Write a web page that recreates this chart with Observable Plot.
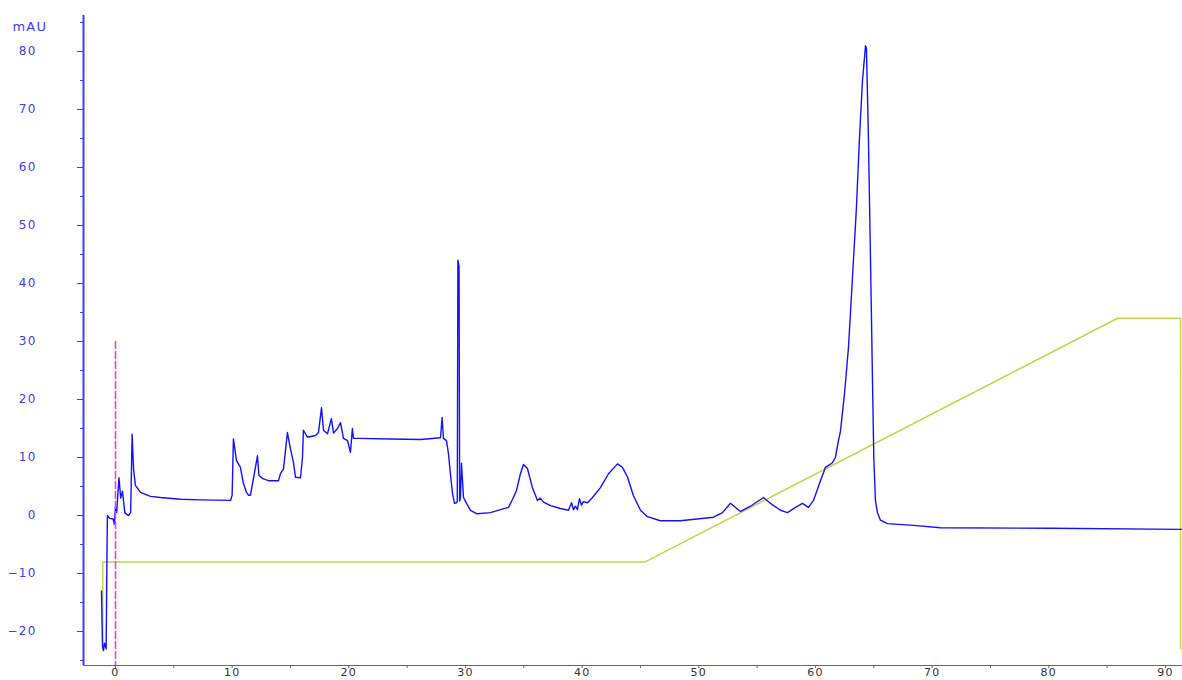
<!DOCTYPE html>
<html>
<head>
<meta charset="utf-8">
<script src="https://cdn.jsdelivr.net/npm/d3@7"></script>
<script src="https://cdn.jsdelivr.net/npm/@observablehq/plot@0.6"></script>
<style>
  html, body { margin: 0; padding: 0; background: #fff; }
  #chart { width: 1182px; height: 680px; overflow: hidden; }
</style>
</head>
<body>
<div id="chart"></div>
<script>
// Chromatogram trace (retention time in min, absorbance in mAU)
const time = [-1.2,-1.11,-1.03,-0.94,-0.8,-0.72,-0.69,-0.5,-0.2,-0.1,0.0,0.1,0.3,0.45,0.6,0.8,1.1,1.3,1.43,1.55,1.71,2.14,3.0,3.86,5.57,7.29,9.86,10.0,10.11,10.37,10.71,10.97,11.23,11.4,11.57,11.83,12.17,12.3,12.6,13.11,13.97,14.14,14.4,14.74,15.0,15.26,15.43,15.86,16.03,16.11,16.46,17.14,17.4,17.66,17.83,18.17,18.51,18.69,19.03,19.29,19.54,19.89,20.14,20.31,20.4,20.83,23.57,26.14,27.86,28.0,28.11,28.37,28.54,28.71,28.89,29.06,29.23,29.3,29.35,29.45,29.5,29.57,29.66,29.83,30.09,30.43,31.0,32.14,33.0,33.69,34.11,34.37,34.71,34.97,35.31,35.74,36.17,36.4,36.69,37.29,38.14,38.83,39.09,39.26,39.43,39.6,39.77,39.94,40.11,40.46,40.89,41.57,42.26,43.03,43.46,43.89,44.4,45.0,45.6,46.71,48.43,51.26,52.03,52.71,53.57,54.43,55.54,56.14,57.0,57.6,58.29,58.89,59.4,59.83,60.43,60.86,61.46,61.71,61.97,62.14,62.49,62.83,63.17,63.51,63.77,64.03,64.29,64.37,64.54,64.71,64.89,65.0,65.14,65.31,65.57,66.17,68.4,70.71,80.14,91.4];
const mAU = [-13,-22.5,-23.3,-22,-23,-5,0,-0.5,-0.6,-1.5,1.5,0.5,6.5,3,4.2,0.5,0,0.5,14,8,5.2,4,3.3,3.1,2.8,2.7,2.6,3.5,13.2,9.5,8.3,5.5,4.0,3.5,3.5,6.4,10.3,6.9,6.4,6.0,6.0,7.2,8.0,14.3,11.5,9.1,6.6,6.5,10,14.7,13.5,13.8,14.3,18.6,14.7,14.1,16.7,14.2,15,16,13.3,12.9,10.9,15,13.3,13.3,13.2,13.1,13.4,16.9,13.3,12.9,10.7,7.2,3.8,2.1,2.2,2.4,44,43,2.5,3,9,3.1,2.1,0.9,0.3,0.5,1.0,1.4,3.1,4.3,7.2,8.8,8.1,4.8,2.6,3.0,2.3,1.7,1.2,0.9,2.2,1.0,1.6,1.0,2.9,1.8,2.4,2.2,3.1,4.8,7.2,8.9,8.3,6.6,3.4,0.9,-0.2,-0.9,-0.9,-0.3,0.5,2.1,0.7,1.6,3.1,2.1,0.9,0.5,1.4,2.1,1.4,2.6,6,8.3,9.1,10,12.9,14.5,21,29,41,53,65,75,81,80.5,65,45,23,10,2.6,0.5,-0.8,-1.4,-1.7,-2.1,-2.2,-2.4];

// Gradient profile trace (same axes)
const gradTime = [-1.09,-1.09,45.4,85.9,91.3,91.3];
const gradVal  = [-23,-8,-8,34,34,-23];

// Injection marker
const injTime = [0,0];
const injVal  = [30,-25.86];

// Axis ticks
const xTicks = [0,10,20,30,40,50,60,70,80,90];
const xMinorTicks = [5,15,25,35,45,55,65,75,85];
const yTicks = [-20,-10,0,10,20,30,40,50,60,70,80];
const yMinorTicks = [-25,-15,-5,5,15,25,35,45,55,65,75,85];
const yUnit = "mAU";

const xDomain = [-2.74, 91.46];
const yDomain = [-25.86, 86.2];

const trace = time.map((t, i) => ({t, v: mAU[i]}));
const grad = gradTime.map((t, i) => ({t, v: gradVal[i]}));
const inj = injTime.map((t, i) => ({t, v: injVal[i]}));

const BLUE = "#1212ff";
const AXISBLUE = "#3c3cff";

const chart = Plot.plot({
  width: 1182,
  height: 680,
  marginLeft: 83,
  marginRight: 0,
  marginTop: 15,
  marginBottom: 15,
  style: {fontFamily: "'DejaVu Sans', sans-serif", fontSize: "12px", letterSpacing: "1.2px", background: "#fff"},
  x: {domain: xDomain, axis: null},
  y: {domain: yDomain, axis: null},
  marks: [
    Plot.line(grad, {x: "t", y: "v", stroke: "#c4d44a", strokeWidth: 1.5}),
    Plot.line(trace, {x: "t", y: "v", stroke: BLUE, strokeWidth: 1.4, strokeLinejoin: "round"}),
    Plot.line(inj, {x: "t", y: "v", stroke: "#f03cf0", strokeWidth: 1.6, strokeDasharray: "7,3"}),
    Plot.ruleY([yDomain[0]], {stroke: "#666", strokeWidth: 1}),
    Plot.ruleX([xDomain[0]], {stroke: AXISBLUE, strokeWidth: 2}),
    Plot.axisX(xTicks, {tickSize: 3, tickPadding: 0, fill: "#333", stroke: "#666", label: null, fontSize: 11}),
    Plot.axisX(xMinorTicks, {tickSize: 3, text: null, stroke: "#666", label: null}),
    Plot.axisY(yTicks, {tickSize: 6, tickPadding: 41, fill: AXISBLUE, stroke: AXISBLUE, label: null, fontSize: 12}),
    Plot.axisY(yMinorTicks, {tickSize: 3, text: null, stroke: AXISBLUE, label: null}),
    Plot.text([yUnit], {frameAnchor: "top-left", dx: -71, dy: 6, textAnchor: "start", fill: AXISBLUE, fontSize: 13})
  ]
});
document.getElementById("chart").appendChild(chart);
</script>
</body>
</html>
